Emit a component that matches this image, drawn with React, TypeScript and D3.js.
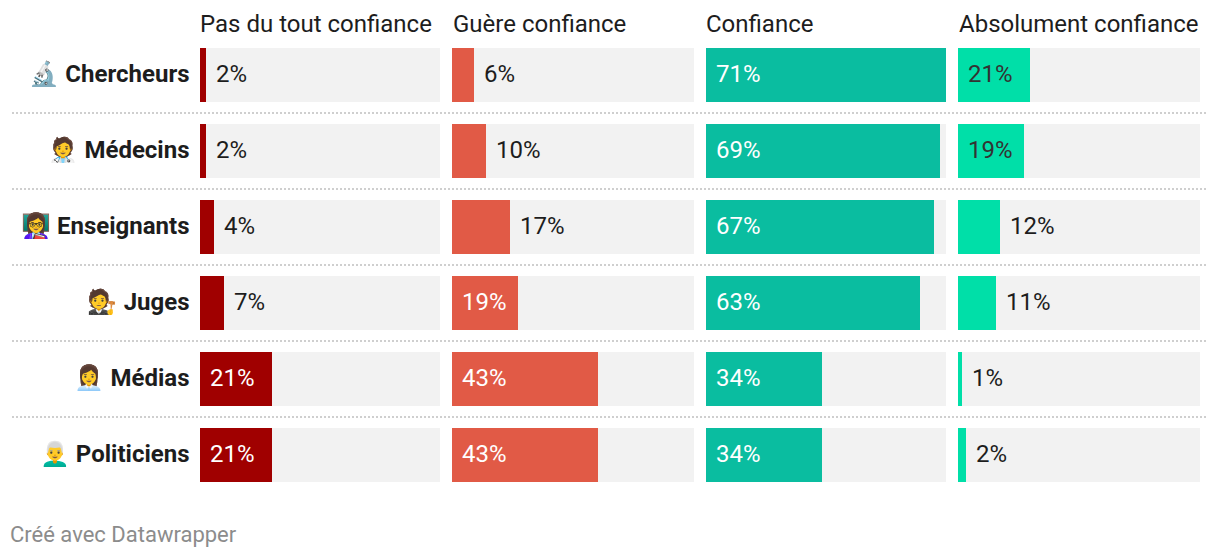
import React from "react";
import * as d3 from "d3";

const professions = ["Chercheurs", "Médecins", "Enseignants", "Juges", "Médias", "Politiciens"];
const emojis = ["🔬", "🧑‍⚕️", "👩‍🏫", "🧑‍⚖️", "👩‍💼", "👨‍🦳"];
const columns = ["Pas du tout confiance", "Guère confiance", "Confiance", "Absolument confiance"];
const pasDuTout = [1.8, 1.8, 4.1, 7.1, 21.3, 21.3];
const guere = [6.4, 10.1, 17.2, 19.4, 43.2, 43.2];
const confiance = [71, 69.2, 67.4, 63.3, 34.3, 34.3];
const absolument = [21.3, 19.4, 12.4, 11.2, 1.2, 2.4];
const series = [pasDuTout, guere, confiance, absolument];
const colors = ["#a00000", "#e15a46", "#0abda0", "#00dfa8"];
const insideText = ["#ffffff", "#ffffff", "#ffffff", "#333333"];

const snap = (v: number) => Math.round(v / 2) * 2;
const font = "Roboto, sans-serif";

export default function App() {
  const x = d3.scaleBand<string>().domain(columns).range([200, 1199.2]).paddingInner(12 / 252.8).paddingOuter(0);
  const y = d3.scaleBand<string>().domain(professions).range([48, 482]).paddingInner(22 / 76).paddingOuter(0);
  const w = d3.scaleLinear().domain([0, 71]).range([0, x.bandwidth()]);
  const barH = y.bandwidth();
  return (
    <svg width={1220} height={558} style={{ position: "absolute", left: 0, top: 0, background: "#fff" }} fontFamily={font}>
      {columns.map((c, j) => (
        <text key={c} x={snap(x(c)!) + (j % 2)} y={32} fontSize={24} fill="#1d1d1d">{c}</text>
      ))}
      {professions.map((p, i) => {
        const top = y(p)!;
        return (
          <g key={p}>
            <text x={189.5} y={top + barH / 2 + 6.5} textAnchor="end" fontSize={24} fontWeight={700} fill="#1d1d1d">
              <tspan fontFamily="'Noto Color Emoji', sans-serif">{emojis[i]}</tspan>
              <tspan> {p}</tspan>
            </text>
            {i < professions.length - 1 && (
              <line x1={12} x2={1208} y1={top + barH + 11} y2={top + barH + 11} stroke="#cfcfcf" strokeWidth={2} strokeDasharray="2 2" />
            )}
            {columns.map((c, j) => {
              const x0 = snap(x(c)!);
              const x1 = snap(x(c)! + x.bandwidth());
              const v = series[j][i];
              const bw = snap(w(v));
              const inside = bw > 60;
              return (
                <g key={c}>
                  <rect x={x0} y={top} width={x1 - x0} height={barH} fill="#f2f2f2" />
                  <rect x={x0} y={top} width={bw} height={barH} fill={colors[j]} />
                  <text x={inside ? x0 + 10 : x0 + bw + 10} y={top + barH / 2 + 7} fontSize={24} fill={inside ? insideText[j] : "#1d1d1d"}>
                    {Math.round(v)}%
                  </text>
                </g>
              );
            })}
          </g>
        );
      })}
      <text x={10} y={542} fontSize={22} fill="#8c8c8c">Créé avec Datawrapper</text>
    </svg>
  );
}
